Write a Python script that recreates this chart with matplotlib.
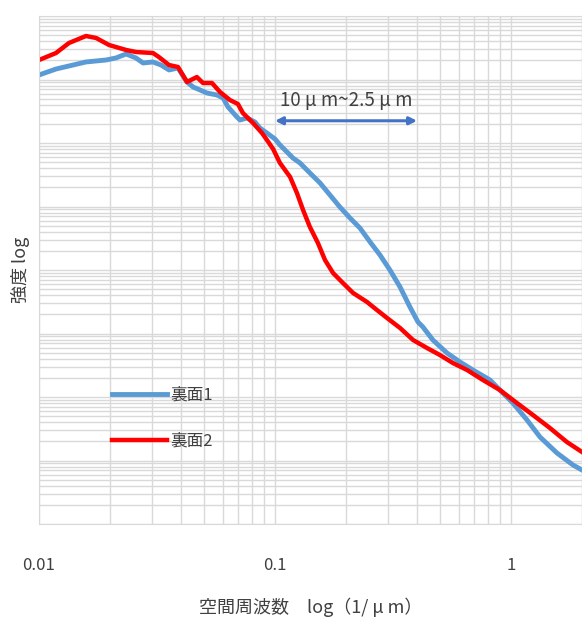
import matplotlib
matplotlib.use('Agg')
import matplotlib.pyplot as plt
from matplotlib.ticker import LogLocator, FixedLocator, FixedFormatter, NullFormatter
import numpy as np

plt.rcParams['font.family'] = ['Noto Sans CJK JP', 'DejaVu Sans']

# values, as log10 (spatial frequency 1/um, intensity)
logf_1 = [-2.000, -1.928, -1.801, -1.716, -1.674, -1.631, -1.589, -1.559, -1.517,
          -1.483, -1.449, -1.411, -1.373, -1.347, -1.288, -1.246, -1.220, -1.199,
          -1.161, -1.148, -1.119, -1.085, -1.064, -1.034, -1.000, -0.979, -0.949,
          -0.924, -0.894, -0.852, -0.809, -0.767, -0.725, -0.682, -0.640, -0.597,
          -0.555, -0.513, -0.470, -0.428, -0.394, -0.373, -0.331, -0.271, -0.216,
          -0.161, -0.089, -0.047, 0.008, 0.068, 0.123, 0.195, 0.263, 0.301]
logi_1 = [7.071, 7.165, 7.276, 7.307, 7.339, 7.402, 7.339, 7.260, 7.276,
          7.228, 7.150, 7.181, 6.961, 6.882, 6.787, 6.756, 6.709, 6.567,
          6.409, 6.362, 6.394, 6.331, 6.236, 6.157, 6.063, 5.969, 5.858,
          5.764, 5.685, 5.528, 5.370, 5.181, 4.992, 4.819, 4.661, 4.441,
          4.236, 4.000, 3.732, 3.417, 3.181, 3.102, 2.898, 2.693, 2.551,
          2.425, 2.268, 2.110, 1.906, 1.638, 1.370, 1.118, 0.929, 0.850]

logf_2 = [-2.000, -1.928, -1.873, -1.801, -1.758, -1.703, -1.631, -1.589, -1.517,
          -1.492, -1.449, -1.411, -1.373, -1.331, -1.305, -1.267, -1.233, -1.191,
          -1.157, -1.136, -1.093, -1.055, -1.034, -1.008, -0.979, -0.936, -0.907,
          -0.881, -0.852, -0.818, -0.788, -0.754, -0.712, -0.669, -0.610, -0.568,
          -0.525, -0.470, -0.415, -0.356, -0.301, -0.246, -0.186, -0.119, -0.047,
          0.025, 0.093, 0.165, 0.237, 0.301]
logi_2 = [7.307, 7.417, 7.575, 7.685, 7.654, 7.543, 7.465, 7.433, 7.417,
          7.354, 7.228, 7.197, 6.961, 7.039, 6.945, 6.945, 6.803, 6.677,
          6.614, 6.472, 6.315, 6.157, 6.047, 5.906, 5.685, 5.465, 5.213,
          4.945, 4.677, 4.425, 4.157, 3.953, 3.795, 3.638, 3.496, 3.370,
          3.244, 3.087, 2.898, 2.772, 2.661, 2.535, 2.425, 2.268, 2.110,
          1.906, 1.717, 1.512, 1.291, 1.134]

labels = ['裏面1', '裏面2']
colors = ['#5B9BD5', '#FF0000']
xticks = [0.01, 0.1, 1]
xticklabels = ['0.01', '0.1', '1']
arrow_range = [0.1, 0.4]   # 10um ~ 2.5um
arrow_level = 6.35

fig = plt.figure(figsize=(5.82, 6.19), dpi=100)
ax = fig.add_axes([39/582, 95/619, 543/582, 508/619])

ax.plot(10**np.array(logf_1), 10**np.array(logi_1), color=colors[0], lw=3.5,
        label=labels[0], solid_joinstyle='round')
ax.plot(10**np.array(logf_2), 10**np.array(logi_2), color=colors[1], lw=3.2,
        label=labels[1], solid_joinstyle='round')

ax.set_xscale('log')
ax.set_yscale('log')
ax.set_xlim(0.01, 2.0)
ax.set_ylim(1, 1e8)

ax.xaxis.set_major_locator(FixedLocator(xticks))
ax.xaxis.set_major_formatter(FixedFormatter(xticklabels))
ax.xaxis.set_minor_locator(LogLocator(base=10, subs=np.arange(2, 10), numticks=20))
ax.xaxis.set_minor_formatter(NullFormatter())
ax.yaxis.set_major_locator(LogLocator(base=10, numticks=20))
ax.yaxis.set_minor_locator(LogLocator(base=10, subs=np.arange(2, 10), numticks=20))
ax.yaxis.set_major_formatter(NullFormatter())
ax.yaxis.set_minor_formatter(NullFormatter())
ax.tick_params(which='both', length=0)
ax.tick_params(axis='x', pad=24, labelsize=12, labelcolor='#404040')

ax.grid(True, which='both', color='#D9D9D9', lw=1.0)
ax.set_axisbelow(True)
for s in ax.spines.values():
    s.set_color('#D9D9D9')

ax.set_xlabel('空間周波数　log（1/ μ m）', fontsize=13, color='#404040', labelpad=17)
ax.set_ylabel('強度 log', fontsize=13, color='#404040', labelpad=3)

ax.annotate('', xy=(arrow_range[1], 10**arrow_level), xytext=(arrow_range[0], 10**arrow_level),
            arrowprops=dict(arrowstyle='<|-|>', color='#4472C4', lw=2.2, mutation_scale=11,
                            shrinkA=0, shrinkB=0))
ax.text(10**np.mean(np.log10(arrow_range)), 10**(arrow_level + 0.15), '10 μ m~2.5 μ m',
        ha='center', va='bottom', fontsize=13.5, color='#404040')

ax.legend(loc='center left', bbox_to_anchor=(0.134, 0.208), frameon=False,
          fontsize=12, handlelength=3.3, handletextpad=0.25, labelspacing=1.75,
          borderpad=0, borderaxespad=0, labelcolor='#404040')

fig.savefig('out.png', dpi=100)
